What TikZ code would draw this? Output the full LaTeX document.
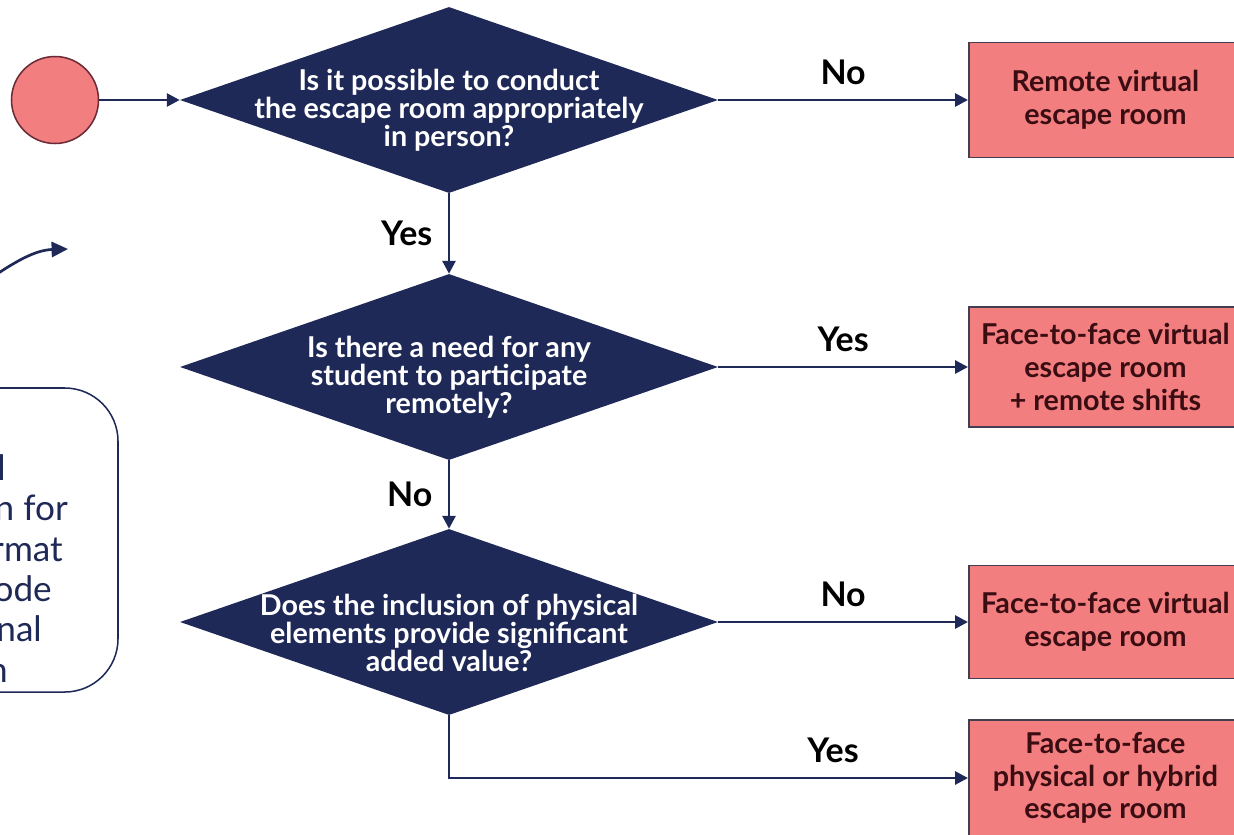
\documentclass[tikz,border=0pt]{standalone}
\usepackage{fontspec}
\setmainfont{Lato}
\usetikzlibrary{shapes.geometric,arrows.meta,positioning}
\definecolor{navy}{HTML}{1F2957}
\definecolor{salmon}{HTML}{F27E80}
\definecolor{darkred}{HTML}{3A0D12}
\definecolor{edgegray}{HTML}{433E50}
\definecolor{ringred}{HTML}{6A2A36}
\tikzset{
  decision/.style={diamond, fill=navy, inner sep=0pt, minimum width=16.14cm, minimum height=5.58cm},
  qtext/.style={text=white, align=center, font=\bfseries\fontsize{24.5}{24}\selectfont},
  outcome/.style={rectangle, fill=salmon, draw=edgegray, line width=1.3pt, anchor=west,
    minimum width=8.2cm, align=center, text=darkred, font=\bfseries\fontsize{24.5}{28}\selectfont},
  arr/.style={navy, line width=2.4pt, -{Triangle[length=11pt,width=11pt]}},
  lbl/.style={text=black, font=\bfseries\fontsize{29}{30}\selectfont, inner sep=2pt},
  notetext/.style={text=navy, font=\fontsize{30}{34}\selectfont, inner sep=0pt, anchor=base east}
}
\begin{document}
\begin{tikzpicture}[x=0.03cm, y=-0.03cm]
\useasboundingbox (0,0) rectangle (1234,834);

% start and questions
\node[circle, fill=salmon, draw=ringred, line width=1.3pt, minimum size=2.61cm, inner sep=0pt] (start) at (55,100) {};
\node[decision] (d1) at (449,100) {};
\node[decision] (d2) at (449,367) {};
\node[decision] (d3) at (449,622) {};
\node[qtext] (q1) at (449,110) {Is it possible to conduct\\the escape room appropriately\\in person?};
\node[qtext] (q2) at (449,377) {Is there a need for any\\student to participate\\remotely?};
\node[qtext] (q3) at (449,633) {Does the inclusion of physical\\elements provide significant\\added value?};

% outcomes
\node[outcome, minimum height=3.45cm] (b1) at (968,100) {Remote virtual\\escape room};
\node[outcome, minimum height=3.6cm] (b2) at (968,367) {Face-to-face virtual\\escape room\\+ remote shifts};
\node[outcome, minimum height=3.39cm] (b3) at (968,622) {Face-to-face virtual\\escape room};
\node[outcome, minimum height=3.48cm] (b4) at (968,778) {Face-to-face\\physical or hybrid\\escape room};

\draw[arr] (start) -- (d1);
\draw[arr] (d1) -- node[lbl, above=10pt] (l1) {No} (b1);
\draw[arr] (d1) -- node[lbl, left=11pt] (l2) {Yes} (d2);
\draw[arr] (d2) -- node[lbl, above=10pt] (l3) {Yes} (b2);
\draw[arr] (d2) -- node[lbl, left=11pt] (l4) {No} (d3);
\draw[arr] (d3) -- node[lbl, above=10pt] (l5) {No} (b3);
\draw[arr] (d3) |- node[lbl, above=10pt, pos=0.87] (l6) {Yes} (b4);

% side note, cut at the left edge
\coordinate (c0) at (-6,276);
\coordinate (c1) at (68,249);
\draw[arr, line width=2.3pt, -{Triangle[length=14pt,width=13pt]}] (c0) .. controls (15,262) and (35,250) .. (c1);
\node[draw=navy, line width=1.3pt, rounded corners=1.6cm, minimum width=9.54cm, minimum height=9.12cm] (note) at (-41,540) {};
\foreach \t/\x/\y in {l/6/480, n for/68/520, rmat/63/561, ode/52/601, nal/42/641, n/8/682}
  \node[notetext] (frag\y) at (\x,\y) {\t};
\end{tikzpicture}
\end{document}
